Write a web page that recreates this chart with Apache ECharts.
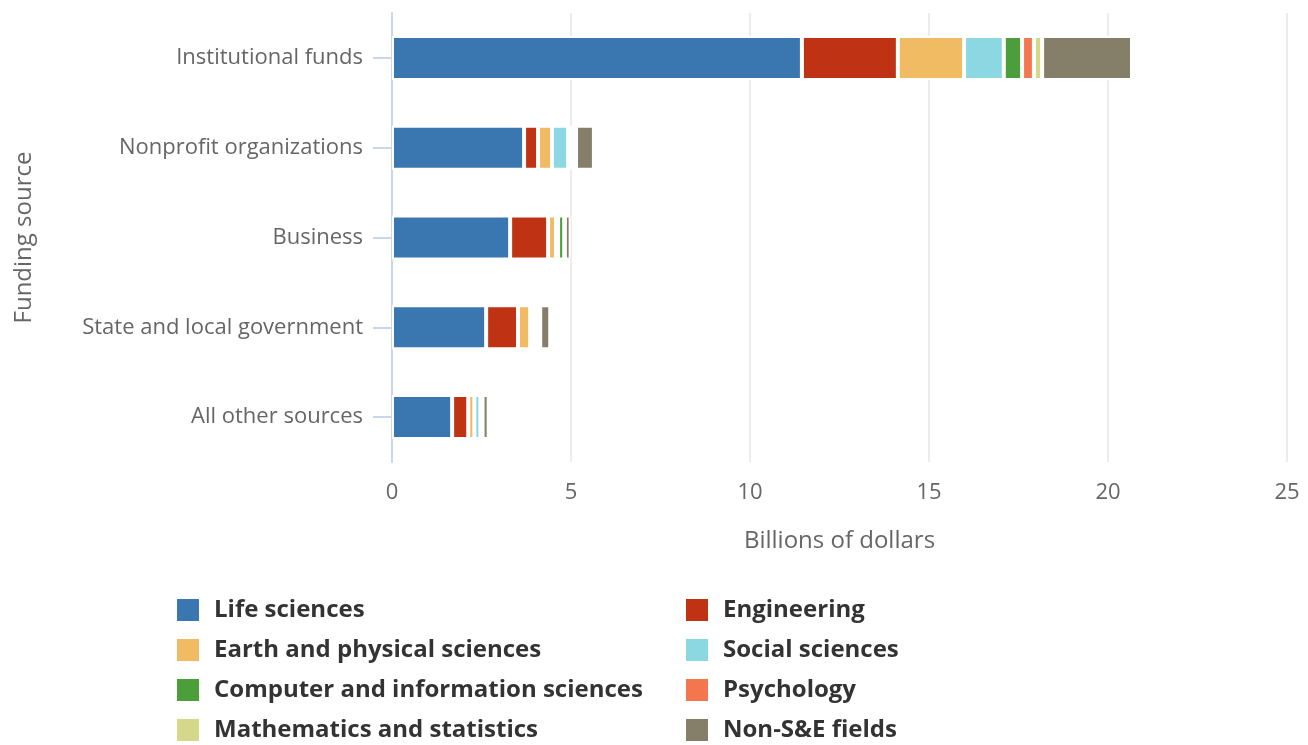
<!DOCTYPE html>
<html>
<head>
<meta charset="utf-8">
<script src="https://cdn.jsdelivr.net/npm/echarts@6/dist/echarts.min.js"></script>
<style>
  html, body { margin: 0; padding: 0; background: #fff; }
  #chart { width: 1308px; height: 745px; }
</style>
</head>
<body>
<div id="chart"></div>
<script>
// --- data (billions of dollars) ---
const sources = ['Institutional funds', 'Nonprofit organizations', 'Business', 'State and local government', 'All other sources']
const fields = ['Life sciences', 'Engineering', 'Earth and physical sciences', 'Social sciences',
  'Computer and information sciences', 'Psychology', 'Mathematics and statistics', 'Non-S&E fields']
const fieldColors = ['#3a77b0', '#bf3213', '#f1bb63', '#8bd8e3', '#4b9e39', '#f3764f', '#d5d78a', '#857e69']

const lifeSciences = [11.45, 3.69, 3.30, 2.63, 1.68]
const engineering = [2.68, 0.39, 1.06, 0.89, 0.45]
const earthPhysical = [1.85, 0.39, 0.22, 0.34, 0.17]
const socialSciences = [1.11, 0.45, 0.06, 0.11, 0.17]
const computerInfo = [0.51, 0.10, 0.17, 0.06, 0.02]
const psychology = [0.33, 0.06, 0.01, 0.05, 0.02]
const mathStats = [0.23, 0.06, 0.01, 0.06, 0.02]
const nonSE = [2.51, 0.50, 0.16, 0.28, 0.17]

const xTicks = [0, 5, 10, 15, 20, 25]

const seriesData = [lifeSciences, engineering, earthPhysical, socialSciences, computerInfo, psychology, mathStats, nonSE]

const chart = echarts.init(document.getElementById('chart'))

const font = '"Open Sans", sans-serif'

const option = {
  animation: false,
  textStyle: { fontFamily: font },
  grid: { left: 392, right: 21, top: 13, bottom: 283, containLabel: false },
  xAxis: {
    type: 'value',
    min: xTicks[0],
    max: xTicks[xTicks.length - 1],
    interval: 5,
    name: 'Billions of dollars',
    nameLocation: 'middle',
    nameGap: 67,
    nameTextStyle: { color: '#666666', fontSize: 24, fontFamily: font },
    axisLine: { show: false },
    axisTick: { show: false },
    axisLabel: { color: '#666666', fontSize: 22, margin: 20, fontFamily: font },
    splitLine: { show: true, lineStyle: { color: '#e6e6e6', width: 1.5 } }
  },
  yAxis: {
    type: 'category',
    data: sources,
    inverse: true,
    name: 'Funding source',
    nameLocation: 'middle',
    nameGap: 356,
    nameRotate: 90,
    nameTextStyle: { color: '#666666', fontSize: 24, fontFamily: font },
    axisLine: { show: true, lineStyle: { color: '#ccd6eb', width: 2 } },
    axisTick: { show: true, alignWithLabel: true, length: 19, lineStyle: { color: '#ccd6eb', width: 2 } },
    axisLabel: { color: '#666666', fontSize: 22, margin: 29, fontFamily: font },
    splitLine: { show: false }
  },
  legend: {
    left: 175,
    top: 596,
    width: 1060,
    padding: 0,
    orient: 'horizontal',
    itemWidth: 24,
    itemHeight: 24,
    itemGap: 12,
    icon: 'rect',
    data: fields,
    textStyle: {
      color: '#333333',
      fontSize: 24,
      fontWeight: 'bold',
      fontFamily: font,
      width: 458,
      lineHeight: 28,
      padding: [0, 0, 0, 9]
    }
  },
  series: fields.map((name, i) => ({
    name: name,
    type: 'bar',
    stack: 'total',
    barWidth: 44,
    data: seriesData[i],
    itemStyle: { color: fieldColors[i], borderColor: '#ffffff', borderWidth: 2 },
    emphasis: { disabled: true }
  }))
}

chart.setOption(option)
</script>
</body>
</html>
